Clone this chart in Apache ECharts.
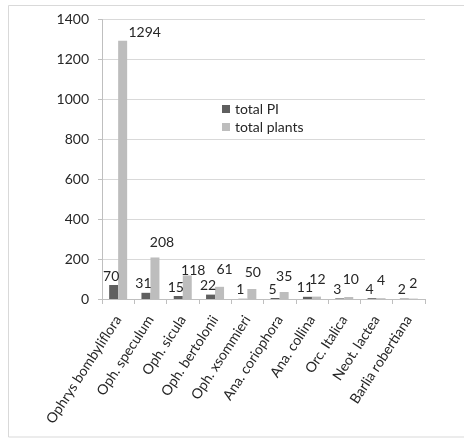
<!DOCTYPE html>
<html>
<head>
<meta charset="utf-8">
<script src="https://cdn.jsdelivr.net/npm/echarts@6/dist/echarts.min.js"></script>
<style>
  html, body { margin: 0; padding: 0; background: #fff; }
  #chart { width: 464px; height: 439px; }
</style>
</head>
<body>
<div id="chart"></div>
<script>
// Orchid taxa and their counts
const species = [
  'Ophrys bombyliflora', 'Oph. speculum', 'Oph. sicula', 'Oph. bertolonii',
  'Oph. xsommieri', 'Ana. coriophora', 'Ana. collina', 'Orc. Italica',
  'Neot. lactea', 'Barlia robertiana'
];
const totalPI = [70, 31, 15, 22, 1, 5, 11, 3, 4, 2];
const totalPlants = [1294, 208, 118, 61, 50, 35, 12, 10, 4, 2];

// Value axis ticks
const yMin = 0, yMax = 1400, yStep = 200;

// Hand-placed label nudges [dx, dy] for the "total plants" labels
const plantLabelShift = [
  [22, 4], [7, -3], [6, 7], [5, -5], [1, -5],
  [0, -4], [1, -5], [2, -6], [0, -6], [0, -3]
];

const FONT = 'Lato';
const TEXT = '#262626';

const chart = echarts.init(document.getElementById('chart'), null, { renderer: 'canvas' });

chart.setOption({
  backgroundColor: '#ffffff',
  animation: false,
  textStyle: { fontFamily: FONT, color: TEXT },
  graphic: [{
    type: 'rect',
    shape: { x: 8.5, y: 5.5, width: 470, height: 431.5 },
    style: { fill: 'none', stroke: '#d9d9d9', lineWidth: 1 },
    silent: true
  }],
  legend: {
    orient: 'vertical',
    left: 222,
    top: 102,
    padding: 0,
    itemGap: 4,
    itemWidth: 8,
    itemHeight: 8,
    icon: 'rect',
    textStyle: { fontFamily: FONT, fontSize: 14, color: TEXT },
    data: ['total PI', 'total plants']
  },
  grid: { left: 102, right: 39, top: 19.5, bottom: 140, containLabel: false },
  xAxis: {
    type: 'category',
    data: species,
    axisLine: { show: true, lineStyle: { color: '#bfbfbf', width: 1 } },
    axisTick: { show: true, length: 5, lineStyle: { color: '#bfbfbf' } },
    axisLabel: {
      interval: 0,
      rotate: 57,
      margin: 18,
      fontFamily: FONT,
      fontSize: 14,
      color: TEXT
    }
  },
  yAxis: {
    type: 'value',
    min: yMin,
    max: yMax,
    interval: yStep,
    axisLine: { show: true, lineStyle: { color: '#bfbfbf', width: 1 } },
    axisTick: { show: true, length: 4, lineStyle: { color: '#bfbfbf' } },
    axisLabel: {
      margin: 13,
      fontFamily: FONT,
      fontSize: 14,
      color: TEXT,
      formatter: (v) => String(v)
    },
    splitLine: { show: true, lineStyle: { color: '#d9d9d9', width: 1 } }
  },
  series: [
    {
      name: 'total PI',
      type: 'bar',
      data: totalPI,
      barWidth: 9,
      barGap: '0%',
      itemStyle: { color: '#5f5f5f' },
      label: {
        show: true,
        position: 'top',
        offset: [-2.5, 3],
        fontFamily: FONT,
        fontSize: 14,
        color: TEXT
      }
    },
    {
      name: 'total plants',
      type: 'bar',
      data: totalPlants.map((v, i) => ({
        value: v,
        label: { offset: plantLabelShift[i] }
      })),
      barWidth: 9,
      itemStyle: { color: '#bdbdbd' },
      label: {
        show: true,
        position: 'top',
        fontFamily: FONT,
        fontSize: 14,
        color: TEXT
      }
    }
  ]
});
</script>
</body>
</html>
